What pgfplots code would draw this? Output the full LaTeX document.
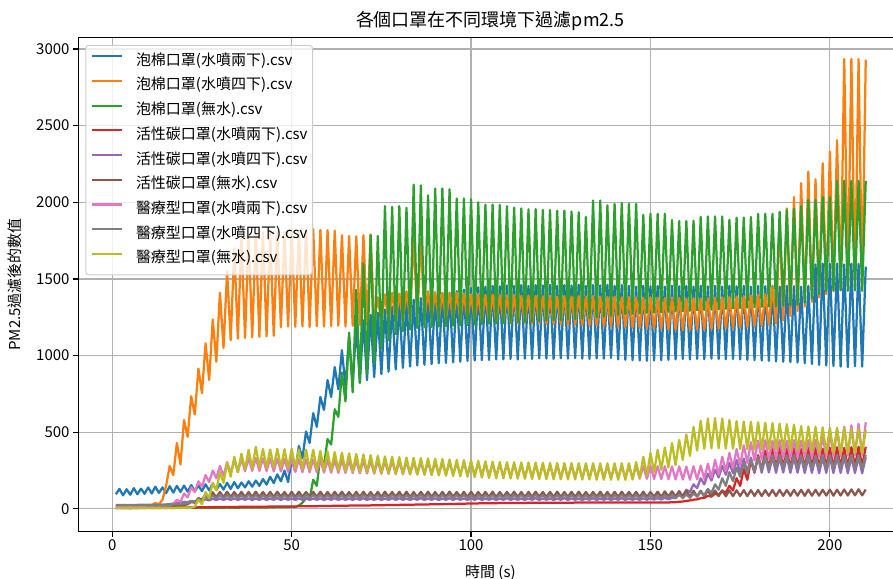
\documentclass[border=0pt]{standalone}
\usepackage{fontspec}
\setmainfont{Noto Sans CJK TC}
\usepackage{pgfplots}
\pgfplotsset{compat=1.18}
\definecolor{c0}{HTML}{1F77B4}
\definecolor{c1}{HTML}{FF7F0E}
\definecolor{c2}{HTML}{2CA02C}
\definecolor{c3}{HTML}{D62728}
\definecolor{c4}{HTML}{9467BD}
\definecolor{c5}{HTML}{8C564B}
\definecolor{c6}{HTML}{E377C2}
\definecolor{c7}{HTML}{7F7F7F}
\definecolor{c8}{HTML}{BCBD22}
\begin{document}
\begin{tikzpicture}[x=1pt,y=1pt]
\useasboundingbox (-78.3,-47.5) rectangle (815,531.5);
\begin{axis}[name=ax, at={(0,0)}, anchor=south west, scale only axis,
  width=815pt, height=494.2pt,
  xmin=-9.48, xmax=217.6, ymin=-146.5, ymax=3076.5,
  axis lines*=left, axis line style={-, line width=1.2pt},
  xtick={0,50,100,150,200}, ytick={0,500,1000,1500,2000,2500,3000},
  xtick pos=left, ytick pos=left,
  scaled y ticks=false,
  grid=major, grid style={color=black!31, line width=1.2pt},
  tick align=outside, major tick length=5.25pt,
  tick style={black, line width=1.2pt},
  /pgf/number format/1000 sep={},
  /pgf/number format/assume math mode=true,
  ticklabel style={font=\fontsize{15}{18}\selectfont},
  title={各個口罩在不同環境下過濾pm2.5},
  title style={font=\fontsize{18}{22}\selectfont, at={(axis description cs:0.5058,1.0091)}, anchor=base},
  xlabel={時間 (s)},
  xlabel style={font=\fontsize{15}{18}\selectfont, at={(axis description cs:0.5058,-0.0935)}, anchor=base},
  ylabel={PM2.5過濾後的數值},
  ylabel style={font=\fontsize{15}{18}\selectfont, at={(axis description cs:-0.0707,0.5)}, anchor=base},
  legend cell align=left,
  legend style={at={(rel axis cs:0,1)}, anchor=north west, xshift=7pt, yshift=-7.5pt,
    draw=black!20, line width=1pt, rounded corners=3pt, fill=white, fill opacity=0.8, text opacity=1, draw opacity=1,
    font=\fontsize{15}{18}\selectfont, inner xsep=5pt, inner ysep=8pt, row sep=8.7pt, column sep=13pt,
    nodes={inner sep=0pt, text height=12pt, text depth=4pt}},
  legend image code/.code={\draw[#1, line width=2.25pt] (0pt,5pt) -- (30pt,5pt);},
  pl/.style={line width=2.25pt, line join=round, mark=none},
  clip=false
]
\addplot[pl, c0] coordinates {(1,95)(2,130)(3,88)(4,128)(5,92)(6,135)(7,95)(8,132)(9,98)(10,140)(11,100)(12,145)(13,104)(14,140)(15,102)(16,148)(17,106)(18,150)(19,110)(20,152)(21,112)(22,155)(23,115)(24,152)(25,116)(26,160)(27,120)(28,165)(29,124)(30,162)(31,126)(32,170)(33,130)(34,175)(35,134)(36,172)(37,140)(38,180)(39,145)(40,185)(41,150)(42,195)(43,158)(44,210)(45,168)(46,225)(47,180)(48,250)(49,175)(50,320)(51,245)(52,410)(53,330)(54,505)(55,430)(56,625)(57,535)(58,730)(59,645)(60,840)(61,730)(62,925)(63,780)(64,1035)(65,800)(66,1120)(67,815)(68,1190)(69,825)(70,1230)(71,840)(72,1265)(73,860)(74,1280)(75,880)(76,1300)(77,895)(78,1320)(79,910)(80,1340)(81,920)(82,1355)(83,928)(84,1365)(85,935)(86,1375)(87,940)(88,1385)(89,945)(90,1395)(91,950)(92,1405)(93,952)(94,1410)(95,956)(96,1420)(97,960)(98,1430)(99,965)(100,1440)(101,968)(102,1445)(103,970)(104,1450)(105,972)(106,1455)(107,975)(108,1452)(109,976)(110,1458)(111,978)(112,1455)(113,975)(114,1460)(115,980)(116,1455)(117,978)(118,1460)(119,982)(120,1458)(121,980)(122,1462)(123,978)(124,1455)(125,982)(126,1460)(127,980)(128,1458)(129,984)(130,1462)(131,980)(132,1455)(133,978)(134,1460)(135,982)(136,1458)(137,980)(138,1462)(139,984)(140,1455)(141,975)(142,1460)(143,972)(144,1455)(145,970)(146,1450)(147,968)(148,1455)(149,966)(150,1452)(151,968)(152,1455)(153,970)(154,1450)(155,972)(156,1455)(157,975)(158,1452)(159,978)(160,1455)(161,975)(162,1450)(163,978)(164,1455)(165,976)(166,1452)(167,980)(168,1455)(169,978)(170,1450)(171,976)(172,1455)(173,978)(174,1452)(175,975)(176,1455)(177,972)(178,1450)(179,970)(180,1455)(181,968)(182,1452)(183,965)(184,1455)(185,962)(186,1450)(187,960)(188,1455)(189,958)(190,1452)(191,955)(192,1450)(193,950)(194,1455)(195,945)(196,1595)(197,940)(198,1600)(199,935)(200,1598)(201,932)(202,1600)(203,928)(204,1595)(205,925)(206,1600)(207,930)(208,1598)(209,928)(210,1580)};
\addlegendentry{泡棉口罩(水噴兩下).csv}
\addplot[pl, c1] coordinates {(1,18)(2,20)(3,19)(4,21)(5,20)(6,22)(7,20)(8,21)(9,20)(10,22)(11,24)(12,38)(13,30)(14,60)(15,150)(16,280)(17,220)(18,430)(19,290)(20,580)(21,470)(22,735)(23,615)(24,915)(25,755)(26,1080)(27,840)(28,1235)(29,960)(30,1410)(31,1050)(32,1550)(33,1100)(34,1700)(35,1110)(36,1780)(37,1115)(38,1790)(39,1120)(40,1800)(41,1122)(42,1805)(43,1125)(44,1800)(45,1130)(46,1810)(47,1185)(48,1805)(49,1190)(50,1810)(51,1188)(52,1815)(53,1190)(54,1820)(55,1188)(56,1825)(57,1192)(58,1820)(59,1190)(60,1818)(61,1192)(62,1815)(63,1195)(64,1785)(65,1190)(66,1780)(67,1195)(68,1778)(69,1200)(70,1785)(71,1205)(72,1790)(73,1210)(74,1380)(75,1215)(76,1400)(77,1220)(78,1410)(79,1225)(80,1405)(81,1230)(82,1420)(83,1240)(84,1780)(85,1250)(86,1760)(87,1245)(88,1420)(89,1240)(90,1415)(91,1235)(92,1410)(93,1238)(94,1405)(95,1232)(96,1410)(97,1230)(98,1405)(99,1228)(100,1400)(101,1225)(102,1400)(103,1222)(104,1395)(105,1220)(106,1398)(107,1218)(108,1395)(109,1215)(110,1392)(111,1212)(112,1395)(113,1210)(114,1390)(115,1212)(116,1392)(117,1208)(118,1390)(119,1210)(120,1388)(121,1205)(122,1390)(123,1208)(124,1385)(125,1205)(126,1388)(127,1202)(128,1385)(129,1200)(130,1388)(131,1198)(132,1385)(133,1195)(134,1388)(135,1195)(136,1385)(137,1192)(138,1382)(139,1190)(140,1385)(141,1188)(142,1380)(143,1185)(144,1382)(145,1182)(146,1380)(147,1180)(148,1378)(149,1178)(150,1380)(151,1175)(152,1378)(153,1172)(154,1375)(155,1170)(156,1378)(157,1168)(158,1375)(159,1165)(160,1372)(161,1168)(162,1375)(163,1170)(164,1372)(165,1168)(166,1375)(167,1172)(168,1378)(169,1175)(170,1380)(171,1178)(172,1382)(173,1180)(174,1385)(175,1182)(176,1388)(177,1185)(178,1392)(179,1190)(180,1395)(181,1195)(182,1400)(183,1200)(184,1450)(185,1210)(186,1880)(187,1230)(188,1960)(189,1260)(190,2035)(191,1290)(192,2125)(193,1320)(194,2200)(195,1350)(196,2150)(197,1380)(198,2255)(199,1400)(200,2330)(201,1420)(202,2405)(203,1440)(204,2935)(205,1450)(206,2935)(207,1450)(208,2935)(209,1450)(210,2930)};
\addlegendentry{泡棉口罩(水噴四下).csv}
\addplot[pl, c2] coordinates {(1,5)(2,7)(3,5)(4,6)(5,4)(6,7)(7,5)(8,6)(9,5)(10,7)(11,5)(12,6)(13,5)(14,7)(15,5)(16,6)(17,5)(18,7)(19,6)(20,7)(21,6)(22,8)(23,6)(24,7)(25,6)(26,8)(27,6)(28,8)(29,7)(30,8)(31,7)(32,9)(33,7)(34,8)(35,7)(36,9)(37,8)(38,9)(39,8)(40,10)(41,8)(42,10)(43,9)(44,11)(45,9)(46,12)(47,10)(48,12)(49,11)(50,14)(51,12)(52,22)(53,40)(54,70)(55,65)(56,190)(57,150)(58,345)(59,280)(60,455)(61,420)(62,650)(63,600)(64,890)(65,700)(66,1150)(67,760)(68,1430)(69,820)(70,1600)(71,880)(72,1785)(73,950)(74,1780)(75,1050)(76,1975)(77,1100)(78,1970)(79,1140)(80,1975)(81,1160)(82,1965)(83,1170)(84,2115)(85,1180)(86,2110)(87,1185)(88,2045)(89,1188)(90,2090)(91,1190)(92,2090)(93,1192)(94,2085)(95,1195)(96,2025)(97,1198)(98,2025)(99,1200)(100,2020)(101,1202)(102,2000)(103,1205)(104,1985)(105,1208)(106,1985)(107,1210)(108,1982)(109,1212)(110,1975)(111,1215)(112,1965)(113,1218)(114,1960)(115,1220)(116,1955)(117,1222)(118,1955)(119,1225)(120,1950)(121,1228)(122,1950)(123,1230)(124,1945)(125,1232)(126,1945)(127,1235)(128,1940)(129,1238)(130,1935)(131,1240)(132,1905)(133,1245)(134,2012)(135,1250)(136,2012)(137,1255)(138,1980)(139,1260)(140,1990)(141,1265)(142,1995)(143,1270)(144,1990)(145,1272)(146,1990)(147,1275)(148,1918)(149,1278)(150,1925)(151,1280)(152,1925)(153,1282)(154,1925)(155,1285)(156,1885)(157,1288)(158,1878)(159,1290)(160,1878)(161,1292)(162,1880)(163,1295)(164,1905)(165,1298)(166,1908)(167,1300)(168,1908)(169,1302)(170,1908)(171,1305)(172,1885)(173,1308)(174,1900)(175,1310)(176,1900)(177,1312)(178,1905)(179,1315)(180,1925)(181,1318)(182,1925)(183,1320)(184,1925)(185,1322)(186,1938)(187,1325)(188,1950)(189,1328)(190,1960)(191,1332)(192,1975)(193,1345)(194,2014)(195,1370)(196,2015)(197,1400)(198,2035)(199,1420)(200,2035)(201,1425)(202,2140)(203,1425)(204,2140)(205,1422)(206,2140)(207,1425)(208,2140)(209,1422)(210,2140)};
\addlegendentry{泡棉口罩(無水).csv}
\addplot[pl, c3] coordinates {(1,6)(5,6)(10,7)(15,7)(20,9)(25,10)(30,12)(35,13)(40,14)(45,15)(50,16)(55,17)(60,19)(65,21)(70,22)(75,24)(80,26)(85,28)(90,30)(95,32)(100,35)(105,37)(110,38)(115,39)(120,40)(125,40)(130,41)(135,41)(140,42)(145,42)(150,42)(155,42)(157,44)(159,48)(160,52)(161,55)(162,60)(163,62)(164,70)(165,72)(166,85)(167,80)(168,100)(169,90)(170,120)(171,105)(172,150)(173,120)(174,200)(175,150)(176,260)(177,190)(178,315)(179,235)(180,350)(181,255)(182,380)(183,262)(184,392)(185,265)(186,398)(187,268)(188,392)(189,265)(190,395)(191,270)(192,390)(193,268)(194,398)(195,272)(196,395)(197,270)(198,392)(199,275)(200,398)(201,270)(202,402)(203,275)(204,398)(205,272)(206,402)(207,278)(208,405)(209,280)(210,405)};
\addlegendentry{活性碳口罩(水噴兩下).csv}
\addplot[pl, c4] coordinates {(1,20)(2,21)(3,20)(4,21)(5,20)(6,21)(7,20)(8,21)(9,20)(10,21)(11,21)(12,22)(13,22)(14,25)(15,28)(16,32)(17,35)(18,40)(19,42)(20,46)(21,44)(22,52)(23,48)(24,58)(25,52)(26,62)(27,55)(28,66)(29,57)(30,68)(31,58)(32,68)(33,58)(34,69)(35,58)(36,68)(37,59)(38,69)(39,58)(40,68)(41,59)(42,69)(43,58)(44,68)(45,59)(46,70)(47,58)(48,69)(49,59)(50,68)(51,58)(52,69)(53,59)(54,70)(55,58)(56,68)(57,59)(58,69)(59,58)(60,68)(61,59)(62,70)(63,58)(64,69)(65,59)(66,68)(67,58)(68,69)(69,59)(70,70)(71,58)(72,68)(73,59)(74,69)(75,58)(76,68)(77,59)(78,70)(79,58)(80,69)(81,59)(82,68)(83,58)(84,69)(85,59)(86,70)(87,58)(88,68)(89,59)(90,69)(91,58)(92,68)(93,59)(94,70)(95,58)(96,69)(97,59)(98,68)(99,58)(100,69)(101,59)(102,70)(103,58)(104,68)(105,59)(106,69)(107,58)(108,68)(109,59)(110,70)(111,58)(112,69)(113,59)(114,68)(115,58)(116,69)(117,59)(118,70)(119,58)(120,68)(121,59)(122,69)(123,58)(124,68)(125,59)(126,70)(127,58)(128,69)(129,59)(130,68)(131,58)(132,69)(133,59)(134,70)(135,58)(136,68)(137,59)(138,69)(139,58)(140,68)(141,59)(142,70)(143,58)(144,69)(145,59)(146,68)(147,58)(148,69)(149,59)(150,70)(151,60)(152,70)(153,61)(154,72)(155,62)(156,72)(157,70)(158,95)(159,85)(160,125)(161,110)(162,160)(163,135)(164,200)(165,160)(166,230)(167,185)(168,255)(169,205)(170,280)(171,222)(172,300)(173,232)(174,318)(175,238)(176,328)(177,240)(178,335)(179,238)(180,338)(181,236)(182,335)(183,238)(184,338)(185,235)(186,336)(187,237)(188,338)(189,235)(190,335)(191,236)(192,338)(193,234)(194,336)(195,235)(196,338)(197,233)(198,335)(199,235)(200,338)(201,234)(202,336)(203,235)(204,338)(205,233)(206,336)(207,234)(208,338)(209,232)(210,336)};
\addlegendentry{活性碳口罩(水噴四下).csv}
\addplot[pl, c5] coordinates {(1,15)(2,16)(3,15)(4,16)(5,15)(6,16)(7,16)(8,17)(9,16)(10,17)(11,16)(12,17)(13,17)(14,18)(15,17)(16,18)(17,18)(18,20)(19,22)(20,25)(21,30)(22,45)(23,40)(24,70)(25,60)(26,95)(27,72)(28,108)(29,75)(30,110)(31,76)(32,112)(33,77)(34,110)(35,78)(36,111)(37,77)(38,110)(39,78)(40,112)(41,78)(42,110)(43,77)(44,111)(45,78)(46,112)(47,79)(48,110)(49,78)(50,111)(51,77)(52,112)(53,78)(54,110)(55,79)(56,111)(57,78)(58,112)(59,77)(60,110)(61,78)(62,111)(63,79)(64,112)(65,78)(66,110)(67,77)(68,111)(69,78)(70,112)(71,79)(72,110)(73,78)(74,111)(75,77)(76,112)(77,78)(78,110)(79,79)(80,111)(81,78)(82,112)(83,77)(84,110)(85,78)(86,111)(87,79)(88,112)(89,78)(90,110)(91,77)(92,111)(93,78)(94,112)(95,79)(96,110)(97,78)(98,111)(99,77)(100,112)(101,78)(102,110)(103,79)(104,111)(105,78)(106,112)(107,77)(108,110)(109,78)(110,111)(111,79)(112,112)(113,78)(114,110)(115,77)(116,111)(117,78)(118,112)(119,79)(120,110)(121,78)(122,111)(123,77)(124,112)(125,78)(126,110)(127,79)(128,111)(129,78)(130,112)(131,77)(132,110)(133,78)(134,111)(135,79)(136,112)(137,78)(138,110)(139,77)(140,111)(141,78)(142,112)(143,79)(144,110)(145,78)(146,111)(147,77)(148,112)(149,78)(150,110)(151,79)(152,112)(153,78)(154,114)(155,80)(156,115)(157,80)(158,116)(159,81)(160,117)(161,80)(162,118)(163,81)(164,118)(165,82)(166,119)(167,82)(168,120)(169,83)(170,120)(171,82)(172,121)(173,83)(174,121)(175,84)(176,122)(177,83)(178,122)(179,84)(180,123)(181,84)(182,122)(183,85)(184,123)(185,84)(186,124)(187,85)(188,123)(189,85)(190,124)(191,86)(192,124)(193,85)(194,125)(195,86)(196,124)(197,86)(198,125)(199,87)(200,126)(201,86)(202,125)(203,87)(204,126)(205,87)(206,127)(207,88)(208,128)(209,88)(210,126)};
\addlegendentry{活性碳口罩(無水).csv}
\addplot[pl, c6] coordinates {(1,20)(2,21)(3,20)(4,21)(5,20)(6,21)(7,20)(8,21)(9,20)(10,22)(11,21)(12,22)(13,21)(14,23)(15,22)(16,26)(17,30)(18,60)(19,45)(20,100)(21,75)(22,140)(23,110)(24,180)(25,145)(26,220)(27,175)(28,250)(29,200)(30,280)(31,215)(32,305)(33,230)(34,320)(35,240)(36,328)(37,245)(38,330)(39,248)(40,332)(41,248)(42,330)(43,246)(44,330)(45,245)(46,328)(47,244)(48,326)(49,242)(50,325)(51,241)(52,324)(53,240)(54,323)(55,239)(56,322)(57,238)(58,321)(59,237)(60,320)(61,236)(62,319)(63,235)(64,318)(65,234)(66,317)(67,233)(68,316)(69,232)(70,315)(71,231)(72,314)(73,230)(74,313)(75,229)(76,312)(77,228)(78,311)(79,227)(80,310)(81,226)(82,309)(83,226)(84,308)(85,225)(86,307)(87,225)(88,306)(89,224)(90,305)(91,224)(92,304)(93,223)(94,303)(95,223)(96,302)(97,222)(98,301)(99,222)(100,300)(101,221)(102,299)(103,220)(104,297)(105,215)(106,295)(107,212)(108,293)(109,210)(110,292)(111,209)(112,291)(113,208)(114,290)(115,207)(116,289)(117,206)(118,288)(119,205)(120,287)(121,204)(122,286)(123,204)(124,285)(125,203)(126,285)(127,203)(128,284)(129,202)(130,284)(131,202)(132,283)(133,201)(134,283)(135,201)(136,282)(137,200)(138,282)(139,200)(140,281)(141,199)(142,281)(143,199)(144,280)(145,198)(146,280)(147,197)(148,279)(149,196)(150,279)(151,195)(152,278)(153,194)(154,278)(155,193)(156,277)(157,192)(158,277)(159,191)(160,276)(161,190)(162,278)(163,192)(164,282)(165,196)(166,295)(167,205)(168,320)(169,225)(170,340)(171,245)(172,365)(173,265)(174,390)(175,285)(176,415)(177,300)(178,435)(179,315)(180,445)(181,322)(182,448)(183,325)(184,445)(185,328)(186,448)(187,330)(188,445)(189,332)(190,448)(191,333)(192,445)(193,335)(194,448)(195,336)(196,450)(197,338)(198,470)(199,340)(200,500)(201,342)(202,520)(203,345)(204,535)(205,348)(206,545)(207,350)(208,555)(209,352)(210,565)};
\addlegendentry{醫療型口罩(水噴兩下).csv}
\addplot[pl, c7] coordinates {(1,25)(2,26)(3,25)(4,26)(5,25)(6,26)(7,26)(8,27)(9,26)(10,27)(11,26)(12,27)(13,27)(14,28)(15,27)(16,28)(17,29)(18,30)(19,32)(20,35)(21,38)(22,50)(23,45)(24,62)(25,55)(26,78)(27,65)(28,88)(29,68)(30,92)(31,70)(32,90)(33,70)(34,91)(35,69)(36,90)(37,70)(38,92)(39,71)(40,90)(41,70)(42,91)(43,69)(44,90)(45,70)(46,92)(47,71)(48,90)(49,70)(50,91)(51,69)(52,90)(53,70)(54,92)(55,71)(56,90)(57,70)(58,91)(59,69)(60,90)(61,70)(62,92)(63,71)(64,90)(65,70)(66,91)(67,69)(68,90)(69,70)(70,92)(71,71)(72,90)(73,70)(74,91)(75,69)(76,90)(77,70)(78,92)(79,71)(80,90)(81,70)(82,91)(83,69)(84,90)(85,70)(86,92)(87,71)(88,90)(89,70)(90,91)(91,69)(92,90)(93,70)(94,92)(95,71)(96,90)(97,70)(98,91)(99,69)(100,90)(101,70)(102,92)(103,71)(104,90)(105,70)(106,91)(107,69)(108,90)(109,70)(110,92)(111,71)(112,90)(113,70)(114,91)(115,69)(116,90)(117,70)(118,92)(119,71)(120,90)(121,70)(122,91)(123,69)(124,90)(125,70)(126,92)(127,71)(128,90)(129,70)(130,91)(131,69)(132,90)(133,70)(134,92)(135,71)(136,90)(137,70)(138,91)(139,69)(140,90)(141,70)(142,92)(143,71)(144,90)(145,70)(146,91)(147,69)(148,90)(149,70)(150,92)(151,71)(152,90)(153,70)(154,91)(155,70)(156,92)(157,71)(158,93)(159,70)(160,95)(161,72)(162,100)(163,80)(164,110)(165,90)(166,130)(167,105)(168,160)(169,125)(170,200)(171,150)(172,240)(173,180)(174,270)(175,210)(176,300)(177,235)(178,320)(179,250)(180,335)(181,258)(182,345)(183,262)(184,350)(185,265)(186,352)(187,265)(188,348)(189,262)(190,352)(191,266)(192,350)(193,264)(194,352)(195,265)(196,348)(197,263)(198,352)(199,265)(200,350)(201,264)(202,352)(203,266)(204,350)(205,265)(206,352)(207,264)(208,350)(209,263)(210,352)};
\addlegendentry{醫療型口罩(水噴四下).csv}
\addplot[pl, c8] coordinates {(1,5)(2,5)(3,5)(4,6)(5,5)(6,6)(7,5)(8,6)(9,5)(10,6)(11,6)(12,6)(13,6)(14,6)(15,6)(16,7)(17,6)(18,7)(19,7)(20,7)(21,7)(22,8)(23,15)(24,60)(25,30)(26,110)(27,70)(28,170)(29,120)(30,240)(31,170)(32,300)(33,210)(34,340)(35,240)(36,360)(37,258)(38,385)(39,266)(40,405)(41,272)(42,392)(43,270)(44,388)(45,272)(46,392)(47,270)(48,390)(49,268)(50,392)(51,265)(52,388)(53,262)(54,386)(55,260)(56,385)(57,258)(58,378)(59,255)(60,374)(61,252)(62,370)(63,250)(64,366)(65,248)(66,362)(67,245)(68,358)(69,242)(70,355)(71,240)(72,350)(73,237)(74,346)(75,234)(76,342)(77,232)(78,340)(79,230)(80,337)(81,228)(82,335)(83,226)(84,333)(85,224)(86,331)(87,222)(88,329)(89,220)(90,327)(91,218)(92,325)(93,216)(94,322)(95,214)(96,320)(97,212)(98,318)(99,210)(100,316)(101,207)(102,313)(103,204)(104,310)(105,202)(106,308)(107,200)(108,306)(109,199)(110,305)(111,198)(112,304)(113,197)(114,303)(115,196)(116,302)(117,195)(118,302)(119,194)(120,301)(121,194)(122,300)(123,193)(124,300)(125,193)(126,299)(127,192)(128,299)(129,192)(130,298)(131,191)(132,298)(133,191)(134,298)(135,190)(136,297)(137,190)(138,297)(139,190)(140,297)(141,190)(142,298)(143,190)(144,298)(145,191)(146,305)(147,200)(148,340)(149,220)(150,365)(151,240)(152,385)(153,255)(154,400)(155,270)(156,430)(157,285)(158,450)(159,320)(160,485)(161,345)(162,535)(163,380)(164,575)(165,392)(166,590)(167,395)(168,592)(169,395)(170,590)(171,393)(172,580)(173,392)(174,572)(175,390)(176,570)(177,390)(178,568)(179,388)(180,565)(181,388)(182,562)(183,387)(184,560)(185,386)(186,556)(187,386)(188,553)(189,385)(190,550)(191,384)(192,540)(193,376)(194,538)(195,372)(196,535)(197,370)(198,532)(199,368)(200,530)(201,366)(202,528)(203,365)(204,525)(205,365)(206,522)(207,364)(208,520)(209,363)(210,515)};
\addlegendentry{醫療型口罩(無水).csv}
\end{axis}
\draw[line width=1.2pt] (ax.north west) -- (ax.north east);
\end{tikzpicture}
\end{document}
